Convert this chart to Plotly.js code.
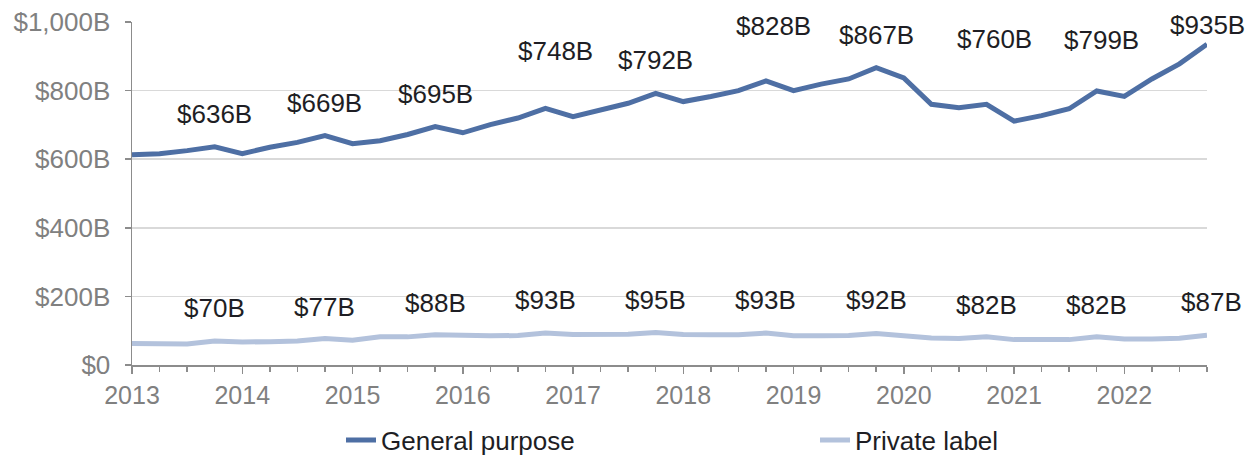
<!DOCTYPE html>
<html>
<head>
<meta charset="utf-8">
<script src="https://cdn.plot.ly/plotly-3.0.1.min.js"></script>
<style>html,body{margin:0;padding:0;background:#fff;}#chart{width:1255px;height:457px;}</style>
</head>
<body>
<div id="chart"></div>
<script>
// Quarterly data, 2013 Q1 .. 2022 Q4 (values in $ billions)
const quarters = [
  "2013 Q1","2013 Q2","2013 Q3","2013 Q4","2014 Q1","2014 Q2","2014 Q3","2014 Q4",
  "2015 Q1","2015 Q2","2015 Q3","2015 Q4","2016 Q1","2016 Q2","2016 Q3","2016 Q4",
  "2017 Q1","2017 Q2","2017 Q3","2017 Q4","2018 Q1","2018 Q2","2018 Q3","2018 Q4",
  "2019 Q1","2019 Q2","2019 Q3","2019 Q4","2020 Q1","2020 Q2","2020 Q3","2020 Q4",
  "2021 Q1","2021 Q2","2021 Q3","2021 Q4","2022 Q1","2022 Q2","2022 Q3","2022 Q4"
];
const generalPurpose = [
  613, 616, 625, 636, 616, 635, 649, 669,
  645, 654, 672, 695, 677, 701, 720, 748,
  724, 742, 763, 792, 768, 783, 800, 828,
  800, 819, 834, 867, 837, 760, 750, 760,
  711, 727, 747, 799, 783, 834, 878, 935
];
const privateLabel = [
  63, 63, 61, 70, 67, 68, 70, 77,
  72, 82, 82, 88, 85, 85, 86, 93,
  89, 90, 90, 95, 89, 88, 88, 93,
  85, 85, 86, 92, 86, 79, 77, 82,
  74, 74, 74, 82, 76, 76, 78, 87
];
const yearLabels = ["2013","2014","2015","2016","2017","2018","2019","2020","2021","2022"];
const yTickValues = [0, 200, 400, 600, 800, 1000];
const seriesNames = ["General purpose", "Private label"];

// Layout helpers (pixel offsets for the year-end value labels)
const gpLabelShift = [33, 33, 33, 57, 33, 55, 33, 65, 51, 19];
const gpLabelXShift = [0, 0, 0, 10, 0, 8, 0, 8, 5, 0];
const plLabelShift = [33, 32, 32, 33, 32, 33, 33, 32, 32, 33];
const plLabelXShift = [0, 0, 0, 0, 0, 0, 0, 0, 0, 4];

const xIdx = quarters.map((q, i) => i);
const fmtMoney = v => "$" + v.toLocaleString("en-US") + (v === 0 ? "" : "B");

const FONT = "Liberation Sans, Arial, sans-serif";
const traces = [
  {x: xIdx, y: generalPurpose, name: seriesNames[0], type: "scatter", mode: "lines",
   line: {color: "#4e6fa4", width: 5}, text: quarters, hoverinfo: "text+y", legend: "legend"},
  {x: xIdx, y: privateLabel, name: seriesNames[1], type: "scatter", mode: "lines",
   line: {color: "#b3c2dc", width: 5}, text: quarters, hoverinfo: "text+y", legend: "legend2"}
];

const annotations = [];
yearLabels.forEach((yr, k) => {
  const i = k * 4 + 3;
  annotations.push({x: i, y: generalPurpose[i], xref: "x", yref: "y", text: fmtMoney(generalPurpose[i]),
    showarrow: false, yanchor: "middle", xanchor: "center", yshift: gpLabelShift[k], xshift: gpLabelXShift[k],
    font: {family: FONT, size: 26, color: "#1e1e24"}});
  annotations.push({x: i, y: privateLabel[i], xref: "x", yref: "y", text: fmtMoney(privateLabel[i]),
    showarrow: false, yanchor: "middle", xanchor: "center", yshift: plLabelShift[k], xshift: plLabelXShift[k],
    font: {family: FONT, size: 26, color: "#1e1e24"}});
});

const legendBase = {orientation: "h", xref: "container", yref: "container", xanchor: "left",
  y: 1 - 440 / 457, yanchor: "middle", font: {family: FONT, size: 26, color: "#1e1e24"},
  bgcolor: "rgba(0,0,0,0)", borderwidth: 0, itemwidth: 30};

const layout = {
  width: 1255, height: 457,
  margin: {l: 132, r: 48, t: 22, b: 92},
  paper_bgcolor: "#ffffff", plot_bgcolor: "#ffffff",
  font: {family: FONT, size: 26, color: "#808080"},
  showlegend: true,
  legend: Object.assign({}, legendBase, {x: 341 / 1255}),
  legend2: Object.assign({}, legendBase, {x: 815 / 1255}),
  xaxis: {
    range: [0, quarters.length - 1], showgrid: false, zeroline: false,
    showline: true, linecolor: "#8c8c8c", linewidth: 1.5,
    tickmode: "array", tickvals: yearLabels.map((y, k) => k * 4), ticktext: yearLabels,
    ticks: "outside", ticklen: 7, tickwidth: 1.5, tickcolor: "#8c8c8c",
    minor: {tickmode: "linear", tick0: 0, dtick: 1, ticks: "outside", ticklen: 5, tickwidth: 1.5, tickcolor: "#8c8c8c", showgrid: false},
    tickfont: {family: FONT, size: 25, color: "#808080"}, fixedrange: true
  },
  yaxis: {
    range: [0, 1000], showgrid: true, gridcolor: "#d9d9d9", gridwidth: 1.5, zeroline: false,
    showline: true, linecolor: "#8c8c8c", linewidth: 1.5,
    tickmode: "array", tickvals: yTickValues, ticktext: yTickValues.map(fmtMoney),
    ticks: "outside", ticklen: 6, tickwidth: 1.5, tickcolor: "#8c8c8c", ticklabelstandoff: 9,
    tickfont: {family: FONT, size: 26, color: "#808080"}, fixedrange: true
  },
  annotations: annotations
};

Plotly.newPlot("chart", traces, layout, {displayModeBar: false, staticPlot: true});
</script>
</body>
</html>
